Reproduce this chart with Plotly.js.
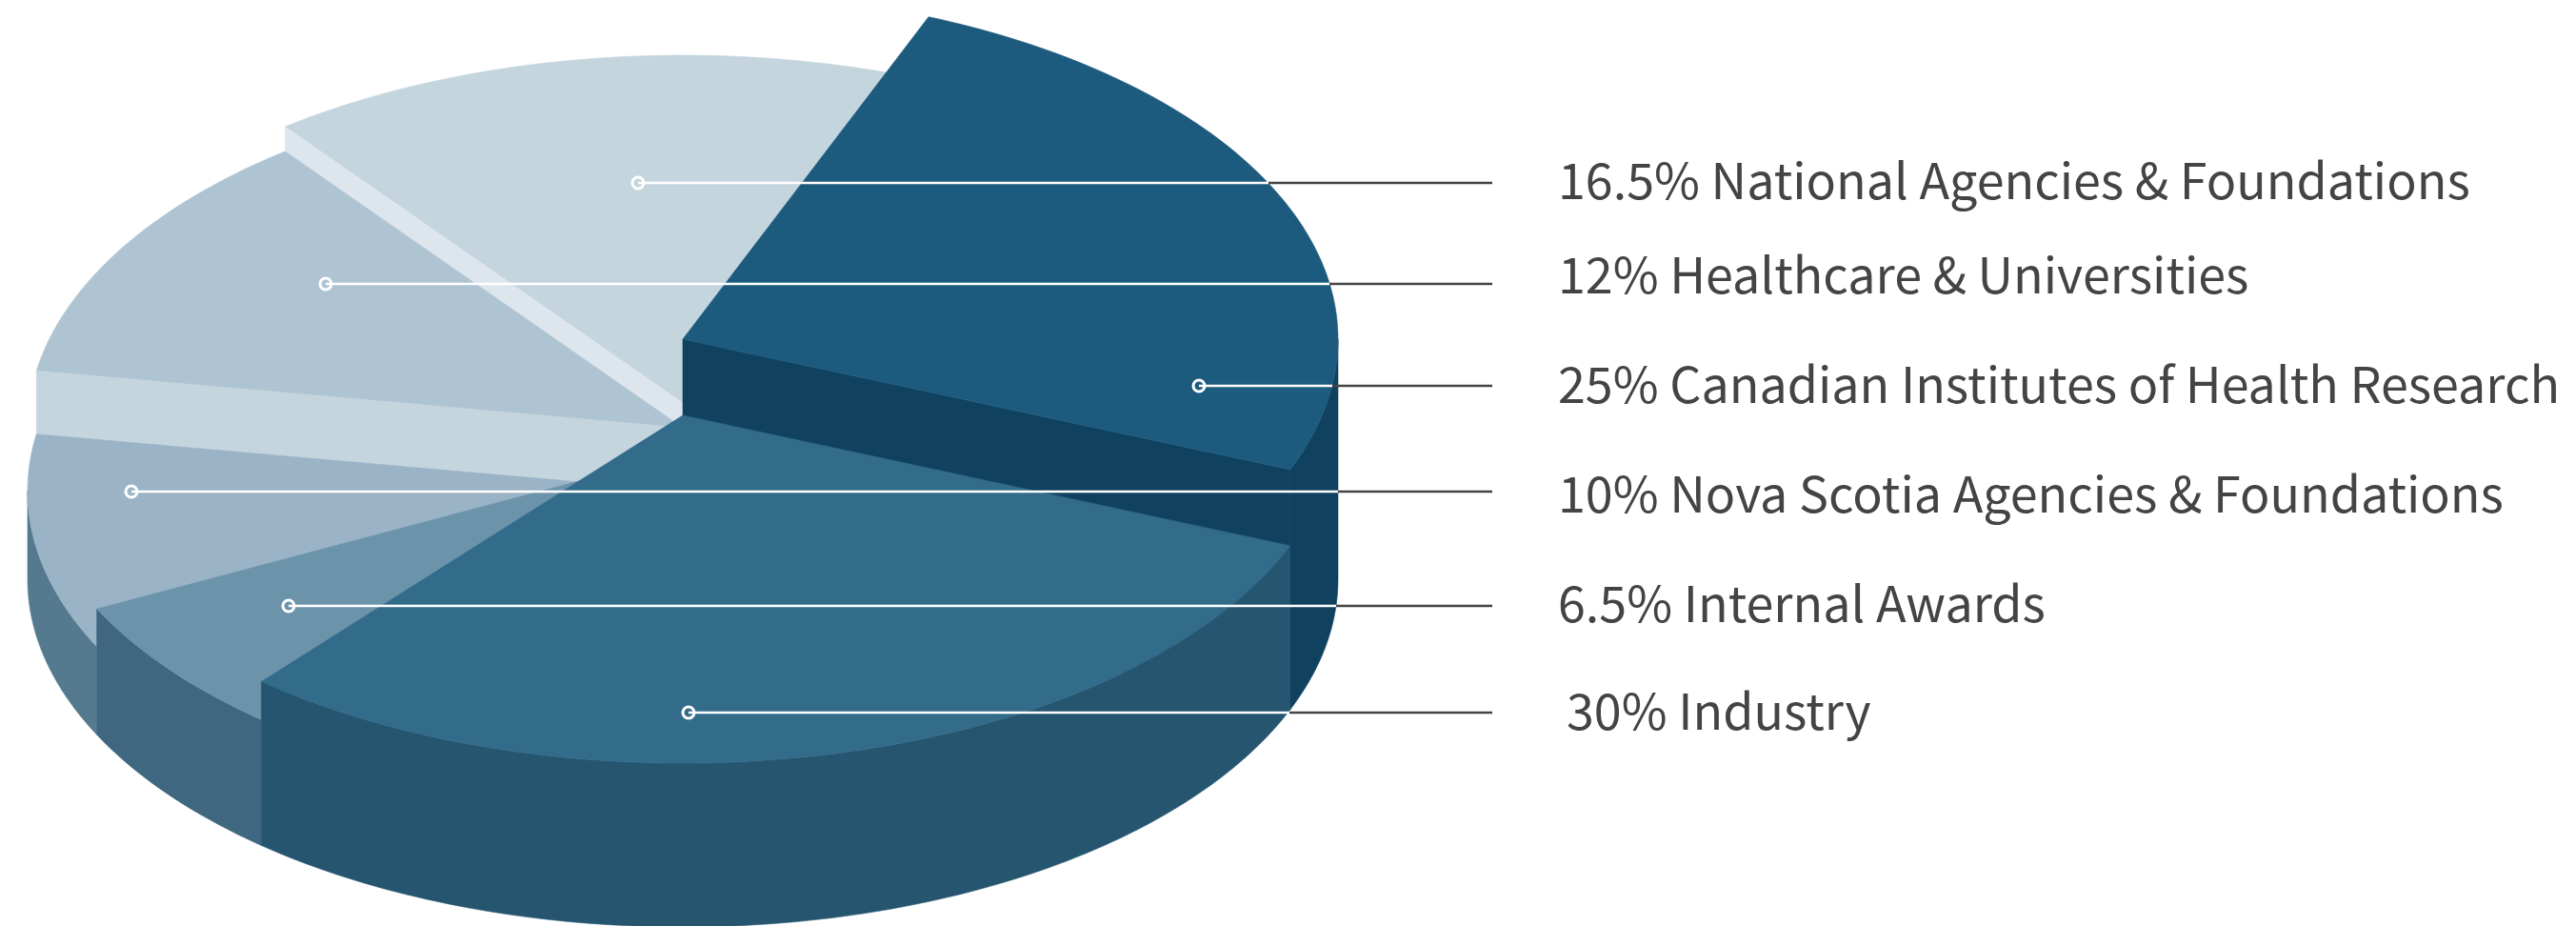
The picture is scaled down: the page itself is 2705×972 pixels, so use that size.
<!DOCTYPE html>
<html>
<head>
<meta charset="utf-8">
<script src="https://cdn.plot.ly/plotly-3.0.1.min.js"></script>
<style>html,body{margin:0;padding:0;background:#fff}#chart{width:2705px;height:972px}</style>
</head>
<body>
<div id="chart"></div>
<script>
// Data, in clockwise order from the top of the disc
const categories = ["Canadian Institutes of Health Research", "Industry", "Internal Awards",
  "Nova Scotia Agencies & Foundations", "Healthcare & Universities", "National Agencies & Foundations"];
const shares = [25, 30, 6.5, 10, 12, 16.5];
const heights = [252, 172, 132, 92.5, 159, 185];

// Legend rows, top to bottom
const labelTexts = ["16.5% National Agencies & Foundations", "12% Healthcare & Universities",
  "25% Canadian Institutes of Health Research", "10% Nova Scotia Agencies & Foundations",
  "6.5% Internal Awards", "30% Industry"];

// Styles
const topColors = ["#1c5b7e", "#336b8b", "#6b94ab", "#9ab3c6", "#afc4d2", "#c5d5de"];
const wallColors = ["#10425f", "#26566f", "#3f677f", "#55798f", "#c5d5de", "#dde5ed"];

// Layout geometry
const cx = 717, baseY = 608, rx = 688, ry = 365, startDeg = 67.97;
const leaderY = [192, 298, 405, 516, 636, 748];
const leaderStart = [670, 342, 1259, 138, 303, 723];
const leaderSplit = [1332, 1396, 1399, 1405, 1403, 1354];
const leaderEnd = 1567;
const labelX = [1635, 1635, 1635, 1635, 1635, 1644];
const labelY = [186, 285, 400, 515, 630, 743];

const angles = [];
let a = startDeg;
shares.forEach(s => { const b = a - s * 3.6; angles.push([a, b]); a = b; });

function arc(cy, a0, a1) {
  const n = Math.max(2, Math.ceil(Math.abs(a1 - a0)));
  const xs = [], ys = [];
  for (let i = 0; i <= n; i++) {
    const t = (a0 + (a1 - a0) * i / n) * Math.PI / 180;
    xs.push(cx + rx * Math.cos(t));
    ys.push(cy - ry * Math.sin(t));
  }
  return [xs, ys];
}
function poly(xs, ys, color, name) {
  return {type: "scatter", mode: "lines", x: xs, y: ys, fill: "toself", fillcolor: color,
    line: {width: 0.6, color: color, simplify: false}, hoverinfo: "text", text: name, showlegend: false};
}
function topFace(i) {
  const cy = baseY - heights[i];
  const [xs, ys] = arc(cy, angles[i][0], angles[i][1]);
  return poly([cx, ...xs, cx], [cy, ...ys, cy], topColors[i], categories[i]);
}
function outerWall(i, from, to) {
  const cy = baseY - heights[i];
  const [x1, y1] = arc(cy, from, to);
  const [x2, y2] = arc(baseY, to, from);
  return poly([...x1, ...x2, x1[0]], [...y1, ...y2, y1[0]], wallColors[i], categories[i]);
}
function radialWall(i, deg) {
  const cy = baseY - heights[i];
  const t = deg * Math.PI / 180;
  const ex = cx + rx * Math.cos(t), dy = ry * Math.sin(t);
  return poly([cx, ex, ex, cx, cx], [cy, cy - dy, baseY - dy, baseY, cy], wallColors[i], categories[i]);
}

const traces = [
  topFace(5), radialWall(5, angles[5][0]),
  topFace(4), radialWall(4, angles[4][0]),
  outerWall(3, -180, angles[3][0]), topFace(3),
  outerWall(2, angles[2][1], angles[2][0]), topFace(2),
  outerWall(0, 0, angles[0][1]), radialWall(0, angles[0][1]), topFace(0),
  outerWall(1, angles[1][0], angles[1][1]), topFace(1)
];

leaderY.forEach((y, i) => {
  traces.push({type: "scatter", mode: "lines", x: [leaderSplit[i], leaderEnd], y: [y, y],
    line: {color: "#444444", width: 2.5}, hoverinfo: "skip", showlegend: false});
  traces.push({type: "scatter", mode: "lines", x: [leaderStart[i], leaderSplit[i]], y: [y, y],
    line: {color: "#ffffff", width: 2.5}, hoverinfo: "skip", showlegend: false});
  traces.push({type: "scatter", mode: "markers", x: [leaderStart[i]], y: [y],
    marker: {symbol: "circle-open", size: 12, color: "#ffffff", line: {color: "#ffffff", width: 3}},
    hoverinfo: "skip", showlegend: false});
});

const annotations = labelTexts.map((t, i) => ({
  text: t, x: labelX[i], y: labelY[i], xref: "x", yref: "y", xanchor: "left", yanchor: "middle",
  showarrow: false, align: "left", borderpad: 0,
  font: {family: '"Noto Sans CJK SC","Noto Sans",sans-serif', size: 52, color: "#444444"}
}));

Plotly.newPlot("chart", traces, {
  width: 2705, height: 972, margin: {l: 0, r: 0, t: 0, b: 0, pad: 0},
  paper_bgcolor: "#ffffff", plot_bgcolor: "#ffffff", showlegend: false,
  xaxis: {visible: false, range: [0, 2705], fixedrange: true},
  yaxis: {visible: false, range: [972, 0], fixedrange: true},
  annotations
}, {displayModeBar: false, staticPlot: false});
</script>
</body>
</html>
